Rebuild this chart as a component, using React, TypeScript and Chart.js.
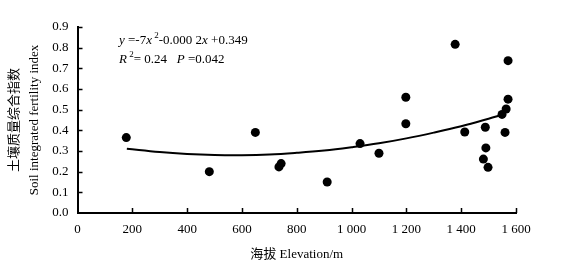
import React, { useEffect, useRef } from "react";
import { Chart, registerables } from "chart.js";

Chart.register(...registerables);

const elevation = [178, 481, 649, 735, 743, 911, 1031, 1100, 1198, 1198, 1378, 1413, 1481, 1488, 1490, 1498, 1549, 1560, 1564, 1571, 1571];
const fertility = [0.365, 0.2, 0.39, 0.223, 0.239, 0.15, 0.336, 0.289, 0.56, 0.432, 0.816, 0.392, 0.261, 0.415, 0.315, 0.221, 0.477, 0.39, 0.503, 0.551, 0.737];

const fitX = [180, 300, 400, 500, 600, 700, 800, 900, 1000, 1100, 1200, 1300, 1400, 1500, 1549];
const fitY = [0.311, 0.295, 0.286, 0.281, 0.28, 0.283, 0.291, 0.302, 0.318, 0.337, 0.361, 0.389, 0.42, 0.456, 0.475];

const xTicks = [0, 200, 400, 600, 800, 1000, 1200, 1400, 1600];
const yTicks = [0, 0.1, 0.2, 0.3, 0.4, 0.5, 0.6, 0.7, 0.8, 0.9];

const yTitle = ["土壤质量综合指数", "Soil integrated fertility index"];
const xTitle = "海拔 Elevation/m";

const SERIF = "'Liberation Serif', 'Noto Sans CJK SC', serif";

const fmtX = (v: number) => {
  const s = String(v);
  return s.length > 3 ? s.slice(0, s.length - 3) + " " + s.slice(s.length - 3) : s;
};

const extrasPlugin = {
  id: "extras",
  afterDraw(chart: any) {
    const ctx = chart.ctx;
    const xs = chart.scales.x;
    const ys = chart.scales.y;
    ctx.save();
    ctx.strokeStyle = "#000";
    ctx.lineWidth = 1.5;
    ctx.beginPath();
    yTicks.forEach((t) => {
      if (t === 0) return;
      const py = Math.round(ys.getPixelForValue(t)) + 0.5;
      ctx.moveTo(xs.left, py);
      ctx.lineTo(xs.left + 5, py);
    });
    xTicks.forEach((t) => {
      if (t === 0) return;
      const px = Math.round(xs.getPixelForValue(t)) + 0.5;
      ctx.moveTo(px, ys.bottom);
      ctx.lineTo(px, ys.bottom - 5);
    });
    ctx.stroke();

    // annotation text
    ctx.fillStyle = "#000";
    ctx.textBaseline = "alphabetic";
    ctx.textAlign = "left";
    const draw = (parts: [string, string][], x: number, y: number) => {
      let cx = x;
      parts.forEach(([kind, txt]) => {
        if (kind === "i") ctx.font = "italic 13px " + SERIF;
        else if (kind === "s") ctx.font = "9px " + SERIF;
        else ctx.font = "13px " + SERIF;
        const dy = kind === "s" ? -6 : 0;
        ctx.fillText(txt, cx, y + dy);
        cx += ctx.measureText(txt).width;
      });
    };
    draw(
      [
        ["i", "y"],
        ["r", " =-7"],
        ["i", "x"],
        ["s", " 2"],
        ["r", "-0.000 2"],
        ["i", "x"],
        ["r", " +0.349"],
      ],
      119,
      44
    );
    draw(
      [
        ["i", "R"],
        ["s", " 2"],
        ["r", "= 0.24   "],
        ["i", "P"],
        ["r", " =0.042"],
      ],
      119,
      63
    );
    ctx.restore();
  },
};

export default function App() {
  const ref = useRef<HTMLCanvasElement | null>(null);
  useEffect(() => {
    if (!ref.current) return;
    const chart = new Chart(ref.current, {
      type: "scatter",
      data: {
        datasets: [
          {
            label: "fit",
            data: fitX.map((x, i) => ({ x, y: fitY[i] })),
            showLine: true,
            borderColor: "#000",
            borderWidth: 2,
            pointRadius: 0,
            tension: 0.4,
            fill: false,
          } as any,
          {
            label: "points",
            data: elevation.map((x, i) => ({ x, y: fertility[i] })),
            backgroundColor: "#000",
            borderColor: "#000",
            pointRadius: 4.5,
            borderWidth: 0,
          },
        ],
      },
      options: {
        animation: false,
        responsive: true,
        maintainAspectRatio: false,
        layout: { padding: { left: 0, right: 54, top: 27, bottom: 0 } },
        plugins: { legend: { display: false }, tooltip: { enabled: false } },
        scales: {
          x: {
            type: "linear",
            min: 0,
            max: 1600,
            afterBuildTicks: (s: any) => {
              s.ticks = xTicks.map((v) => ({ value: v }));
            },
            afterFit: (s: any) => {
              s.height = 57;
            },
            grid: { display: false, drawTicks: false },
            border: { display: true, color: "#000", width: 2 },
            ticks: {
              color: "#000",
              font: { family: SERIF, size: 13 },
              padding: 9,
              maxRotation: 0,
              callback: (v: any) => fmtX(Number(v)),
            },
            title: {
              display: true,
              text: xTitle,
              color: "#000",
              font: { family: SERIF, size: 13, lineHeight: 1.2 },
              padding: { top: 0, bottom: 8 },
            },
          },
          y: {
            type: "linear",
            min: 0,
            max: 0.9,
            afterBuildTicks: (s: any) => {
              s.ticks = yTicks.map((v) => ({ value: v }));
            },
            afterFit: (s: any) => {
              s.width = 77.5;
            },
            grid: { display: false, drawTicks: false },
            border: { display: true, color: "#000", width: 2 },
            ticks: {
              color: "#000",
              font: { family: SERIF, size: 13 },
              padding: 9,
              callback: (v: any) => Number(v).toFixed(1),
            },
            title: {
              display: true,
              text: yTitle,
              color: "#000",
              font: { family: SERIF, size: 13, lineHeight: 1.5 },
              padding: { top: 5, bottom: 0 },
            },
          },
        },
      },
      plugins: [extrasPlugin],
    });
    return () => chart.destroy();
  }, []);
  return (
    <div style={{ position: "absolute", left: 0, top: 0, width: 570, height: 270, background: "#fff" }}>
      <canvas ref={ref} />
    </div>
  );
}
